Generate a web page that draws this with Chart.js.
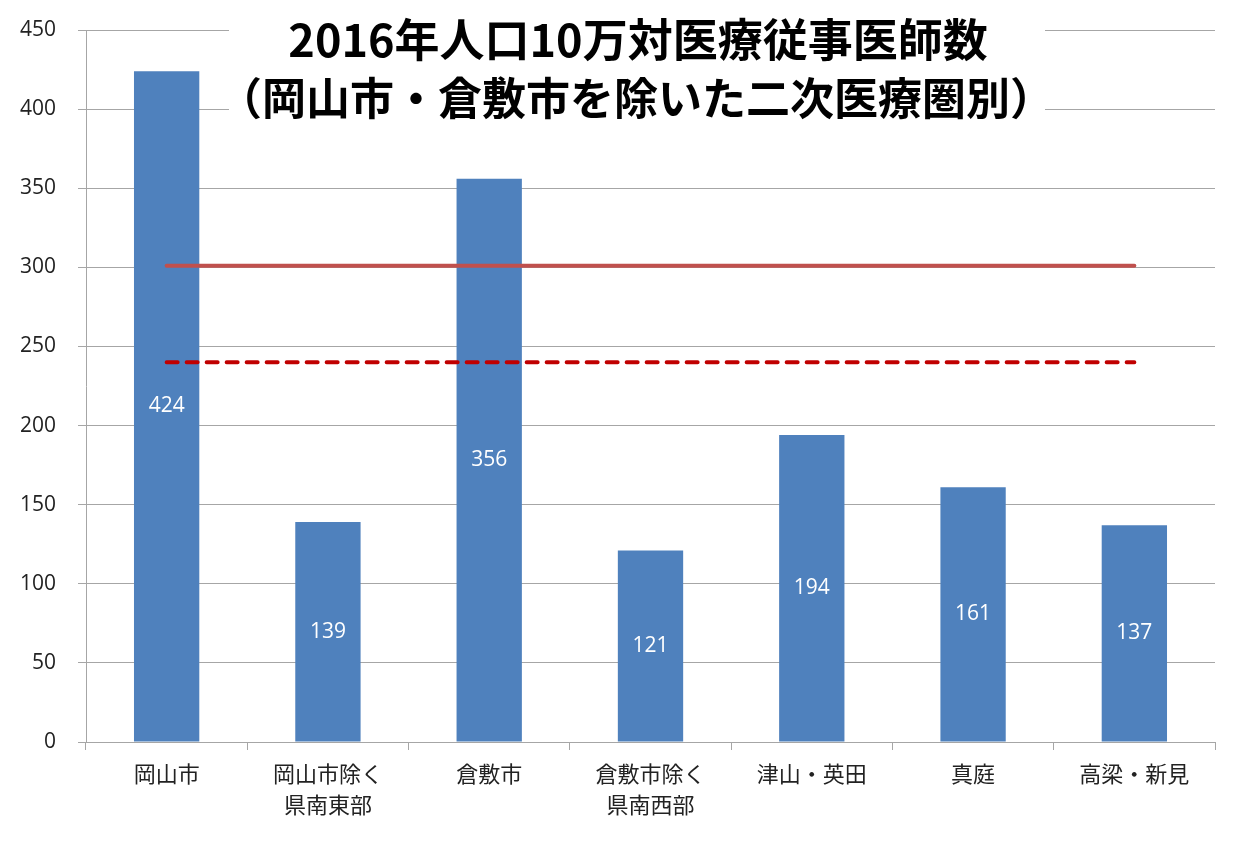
<!DOCTYPE html>
<html>
<head>
<meta charset="utf-8">
<script src="https://cdn.jsdelivr.net/npm/chart.js@4"></script>
<style>
  html, body { margin: 0; padding: 0; background: #fff; }
  #wrap { width: 1243px; height: 842px; }
</style>
</head>
<body>
<div id="wrap"><canvas id="c" width="1243" height="842"></canvas></div>
<script>
// ── DATA ────────────────────────────────────────────
const categories = [
  ['岡山市'],
  ['岡山市除く', '県南東部'],
  ['倉敷市'],
  ['倉敷市除く', '県南西部'],
  ['津山・英田'],
  ['真庭'],
  ['高梁・新見'],
];
const doctors = [424, 139, 356, 121, 194, 161, 137];
const levelSolid = [301, 301, 301, 301, 301, 301, 301];
const levelDashed = [240, 240, 240, 240, 240, 240, 240];
const titleLines = ['2016年人口10万対医療従事医師数', '（岡山市・倉敷市を除いた二次医療圏別）'];

const GRID = '#A6A6A6';
const FONT = "'Open Sans', 'Noto Sans CJK JP', sans-serif";
const CJK = "'Noto Sans CJK JP', sans-serif";
const BAR_IDX = 2;

// ── VALUE LABELS (centre of bar) ────────────────────
const barLabels = {
  id: 'barLabels',
  afterDatasetsDraw(chart) {
    const ctx = chart.ctx;
    const meta = chart.getDatasetMeta(BAR_IDX);
    ctx.save();
    ctx.fillStyle = '#fff';
    ctx.font = `21px ${FONT}`;
    ctx.textAlign = 'center';
    ctx.textBaseline = 'middle';
    meta.data.forEach((bar, i) => {
      const mid = (bar.y + bar.base) / 2;
      ctx.fillText(String(doctors[i]), bar.x, mid);
    });
    ctx.restore();
  }
};

// ── TITLE BOX over the plot ─────────────────────────
const titleBox = {
  id: 'titleBox',
  afterDraw(chart) {
    const ctx = chart.ctx;
    ctx.save();
    ctx.fillStyle = '#fff';
    ctx.fillRect(229, 0, 816, 126);
    ctx.fillStyle = '#000';
    ctx.font = `bold 45px ${CJK}`;
    ctx.textAlign = 'center';
    ctx.textBaseline = 'middle';
    ctx.fillText(titleLines[0], 638, 40);
    ctx.font = `bold 44px ${CJK}`;
    ctx.fillText(titleLines[1], 636, 98);
    ctx.restore();
  }
};

const lineBase = { type: 'line', order: 1, borderWidth: 4, pointRadius: 0, pointHoverRadius: 0, pointBorderWidth: 0, fill: false };

new Chart(document.getElementById('c').getContext('2d'), {
  data: {
    labels: categories,
    datasets: [
      { ...lineBase, data: levelSolid, borderColor: '#C0504D', borderCapStyle: 'round' },
      { ...lineBase, data: levelDashed, borderColor: '#C00000', borderDash: [11, 9], borderCapStyle: 'round' },
      {
        type: 'bar', data: doctors, order: 2,
        backgroundColor: '#4F81BD',
        categoryPercentage: 1, barPercentage: 0.405,
      },
    ],
  },
  options: {
    responsive: false,
    animation: false,
    layout: { padding: { top: 30, right: 28, left: 0, bottom: 0 } },
    plugins: { legend: { display: false }, tooltip: { enabled: false } },
    scales: {
      x: {
        grid: { display: true, drawOnChartArea: false, drawTicks: true, tickLength: 8, color: GRID, offset: true },
        border: { color: GRID, width: 1 },
        ticks: { color: '#222', font: { size: 22, family: CJK, lineHeight: 1.4 }, padding: 8, maxRotation: 0, autoSkip: false },
        afterFit(s) { s.height = 100; },
      },
      y: {
        min: 0, max: 450,
        grid: { color: GRID, tickLength: 8 },
        border: { color: GRID, width: 1 },
        ticks: { stepSize: 50, color: '#222', font: { size: 21, family: FONT }, padding: 22 },
        afterFit(s) { s.width = 86; s.paddingTop = 12; s.paddingBottom = 12; },
      },
    },
  },
  plugins: [barLabels, titleBox],
});
</script>
</body>
</html>
